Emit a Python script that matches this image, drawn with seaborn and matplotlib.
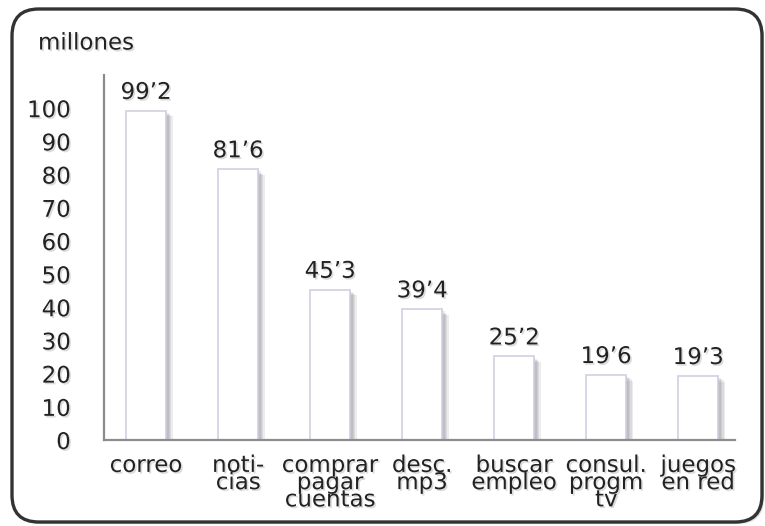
import matplotlib
matplotlib.use("Agg")
import matplotlib.pyplot as plt
import matplotlib.patheffects as pe
from matplotlib.patches import FancyBboxPatch
import seaborn as sns
import pandas as pd

# Internet uses, millions of users
categories = ["correo", "noti-\ncias", "comprar\npagar\ncuentas", "desc.\nmp3",
              "buscar\nempleo", "consul.\nprogm\ntv", "juegos\nen red"]
values = [99.2, 81.6, 45.3, 39.4, 25.2, 19.6, 19.3]
value_labels = ["99’2", "81’6", "45’3", "39’4", "25’2", "19’6", "19’3"]
y_ticks = [0, 10, 20, 30, 40, 50, 60, 70, 80, 90, 100]

df = pd.DataFrame({"uso": categories, "millones": values})

sns.set_style("white")
plt.rcParams["font.family"] = ["DejaVu Sans"]

W, H = 765, 526
FS = 16.5
fig = plt.figure(figsize=(W / 100, H / 100), dpi=100)
fig.patch.set_facecolor("white")

# rounded frame around the whole chart
frame = FancyBboxPatch((12 / W, 1 - 522 / H), (762 - 12) / W, (522 - 9) / H,
                       boxstyle="round,pad=0,rounding_size=0.035",
                       transform=fig.transFigure, facecolor="white",
                       edgecolor="#333333", linewidth=2.4, zorder=-5,
                       mutation_aspect=W / H)
frame.set_path_effects([pe.SimplePatchShadow(offset=(1.5, -1.5), shadow_rgbFace="#999999", alpha=0.4),
                        pe.Normal()])
fig.patches.append(frame)

ax = fig.add_axes([104 / W, 1 - 440 / H, (735 - 104) / W, (440 - 75) / H])
ax.set_facecolor("none")
ax.set_zorder(2)

text_fx = [pe.withSimplePatchShadow(offset=(1.2, -1.2), shadow_rgbFace="#9a9a9a", alpha=0.35)]

sns.barplot(data=df, x="uso", y="millones", ax=ax, color="white",
            width=0.43, edgecolor="#cfcfe0", linewidth=1.2, saturation=1)

# soft drop shadow: several faint offset copies behind each bar
bar_fx = [pe.SimplePatchShadow(offset=(d, -d * 0.8), shadow_rgbFace="#6e6e78", alpha=0.13)
          for d in (5, 4, 3, 2, 1)] + [pe.Normal()]
for bar in ax.patches:
    bar.set_path_effects(bar_fx)

for bar, lab in zip(ax.patches, value_labels):
    ax.annotate(lab, (bar.get_x() + bar.get_width() / 2, bar.get_height()),
                xytext=(0, 5), textcoords="offset points", ha="center", va="bottom",
                fontsize=FS, color="#222222", path_effects=text_fx)

ax.set_xlim(-0.457, 6.40)
ax.set_ylim(0, 110)
ax.set_yticks(y_ticks)
ax.set_yticklabels([str(t) for t in y_ticks])
ax.set_xlabel("")
ax.set_ylabel("")

for side in ("top", "right"):
    ax.spines[side].set_visible(False)
for side in ("left", "bottom"):
    ax.spines[side].set_color("#8c8c8c")
    ax.spines[side].set_linewidth(1.6)

ax.tick_params(axis="y", length=0, pad=24, labelsize=FS, labelcolor="#222222")
ax.tick_params(axis="x", length=0, pad=10, labelsize=FS, labelcolor="#222222")
for t in ax.get_yticklabels():
    t.set_path_effects(text_fx)
for t in ax.get_xticklabels():
    t.set_linespacing(0.68)
    t.set_verticalalignment("top")
    t.set_path_effects(text_fx)

fig.text(38 / W, 1 - 43 / H, "millones", fontsize=FS, color="#222222",
         ha="left", va="center", path_effects=text_fx)

fig.savefig("out.png", dpi=100, facecolor="white")
